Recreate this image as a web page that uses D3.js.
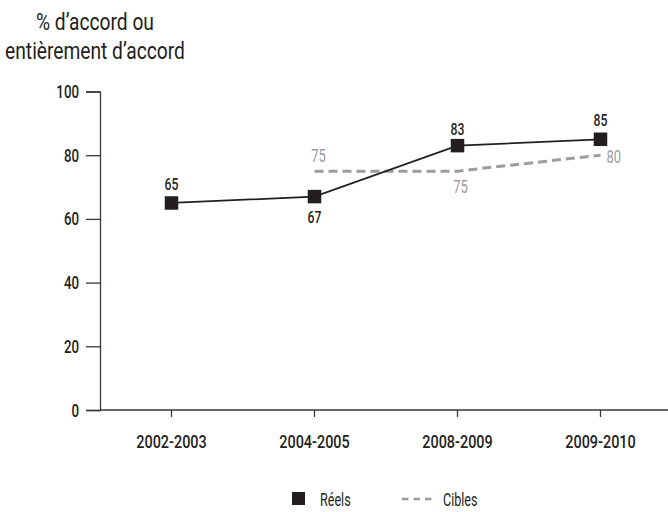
<!DOCTYPE html>
<html>
<head>
<meta charset="utf-8">
<script src="https://cdn.jsdelivr.net/npm/d3@7"></script>
<style>
  html, body { margin: 0; padding: 0; background: #fff; }
  svg { display: block; }
  text { font-family: Roboto, "Noto Sans", sans-serif; fill: #231f20; }
  .narrow { transform-box: fill-box; }
</style>
</head>
<body>
<svg id="chart" width="668" height="512"></svg>
<script>
// Survey periods and values
const periods = ["2002-2003", "2004-2005", "2008-2009", "2009-2010"];
const actualValues = [65, 67, 83, 85];          // Réels
const targetPeriods = ["2004-2005", "2008-2009", "2009-2010"];
const targetValues = [75, 75, 80];              // Cibles
const yTicks = [0, 20, 40, 60, 80, 100];
const titleLines = ["% d’accord ou", "entièrement d’accord"];
const legendLabels = ["Réels", "Cibles"];

const svg = d3.select("#chart");
const dark = "#231f20";
const grey = "#9d9d9d";

// Narrow the glyphs horizontally, keeping the anchored edge in place
function narrow(sel, origin, k) {
  sel.classed("narrow", true)
    .style("transform-origin", origin + " center")
    .style("transform", `scaleX(${k})`);
}

const x = d3.scaleBand().domain(periods).range([100, 672]);
const y = d3.scaleLinear().domain([0, 100]).range([410, 91.5]);
const cx = p => x(p) + x.bandwidth() / 2;

// Title
const title = svg.append("text")
  .attr("text-anchor", "middle")
  .attr("font-size", 24);
title.selectAll("tspan").data(titleLines).join("tspan")
  .attr("x", 95)
  .attr("y", (d, i) => 30 + i * 29)
  .text(d => d);
narrow(title, "center", 0.8);

// Y axis
const yAxis = svg.append("g")
  .attr("transform", "translate(100,0)")
  .call(d3.axisLeft(y).tickValues(yTicks).tickSize(14).tickPadding(7));
yAxis.selectAll("text").attr("font-size", 19).attr("font-weight", 500).attr("fill", dark).call(narrow, "right", 0.7);

// X axis
const xAxis = svg.append("g")
  .attr("transform", "translate(0,410)")
  .call(d3.axisBottom(x).tickSize(7).tickPadding(18).tickSizeOuter(0));
xAxis.selectAll("text").attr("font-size", 19).attr("font-weight", 500).attr("fill", dark).call(narrow, "center", 0.76);
xAxis.select(".domain").attr("d", "M100,0H668");

svg.selectAll(".domain, .tick line").attr("stroke", "#3a3637").attr("stroke-width", 1.3);

// Target line (dashed)
const targetData = targetPeriods.map((p, i) => ({ p, v: targetValues[i] }));
svg.append("path")
  .datum(targetData)
  .attr("fill", "none")
  .attr("stroke", grey)
  .attr("stroke-width", 3)
  .attr("stroke-dasharray", "9,5")
  .attr("d", d3.line().x(d => cx(d.p)).y(d => y(d.v)));

// Target labels
const targetOffsets = [
  { dx: 4, dy: -9, anchor: "middle", origin: "center" },
  { dx: 3, dy: 22, anchor: "middle", origin: "center" },
  { dx: 6, dy: 8, anchor: "start", origin: "left" }
];
svg.append("g").selectAll("text").data(targetData).join("text")
  .attr("x", (d, i) => cx(d.p) + targetOffsets[i].dx)
  .attr("y", (d, i) => y(d.v) + targetOffsets[i].dy)
  .attr("text-anchor", (d, i) => targetOffsets[i].anchor)
  .attr("font-size", 18)
  .style("fill", grey)
  .text(d => d.v)
  .each(function (d, i) { narrow(d3.select(this), targetOffsets[i].origin, 0.72); });

// Actual line with square markers
const actualData = periods.map((p, i) => ({ p, v: actualValues[i] }));
svg.append("path")
  .datum(actualData)
  .attr("fill", "none")
  .attr("stroke", dark)
  .attr("stroke-width", 1.8)
  .attr("d", d3.line().x(d => cx(d.p)).y(d => y(d.v)));

const sq = 13.5;
svg.append("g").selectAll("rect").data(actualData).join("rect")
  .attr("x", d => cx(d.p) - sq / 2)
  .attr("y", d => y(d.v) - sq / 2)
  .attr("width", sq).attr("height", sq)
  .attr("fill", dark);

const actualOffsets = [-13, 26, -11, -13];
svg.append("g").selectAll("text").data(actualData).join("text")
  .attr("x", d => cx(d.p))
  .attr("y", (d, i) => y(d.v) + actualOffsets[i])
  .attr("text-anchor", "middle")
  .attr("font-size", 17)
  .attr("font-weight", 500)
  .text(d => d.v)
  .call(narrow, "center", 0.72);

// Legend
const legend = svg.append("g");
legend.append("rect").attr("x", 292).attr("y", 492).attr("width", 13).attr("height", 13).attr("fill", dark);
legend.append("text").attr("x", 320).attr("y", 506).attr("font-size", 18).text(legendLabels[0]).call(narrow, "left", 0.7);
legend.append("line").attr("x1", 402).attr("x2", 432).attr("y1", 499).attr("y2", 499)
  .attr("stroke", grey).attr("stroke-width", 2.5).attr("stroke-dasharray", "6.5,5");
legend.append("text").attr("x", 443).attr("y", 506).attr("font-size", 18).text(legendLabels[1]).call(narrow, "left", 0.7);
</script>
</body>
</html>
